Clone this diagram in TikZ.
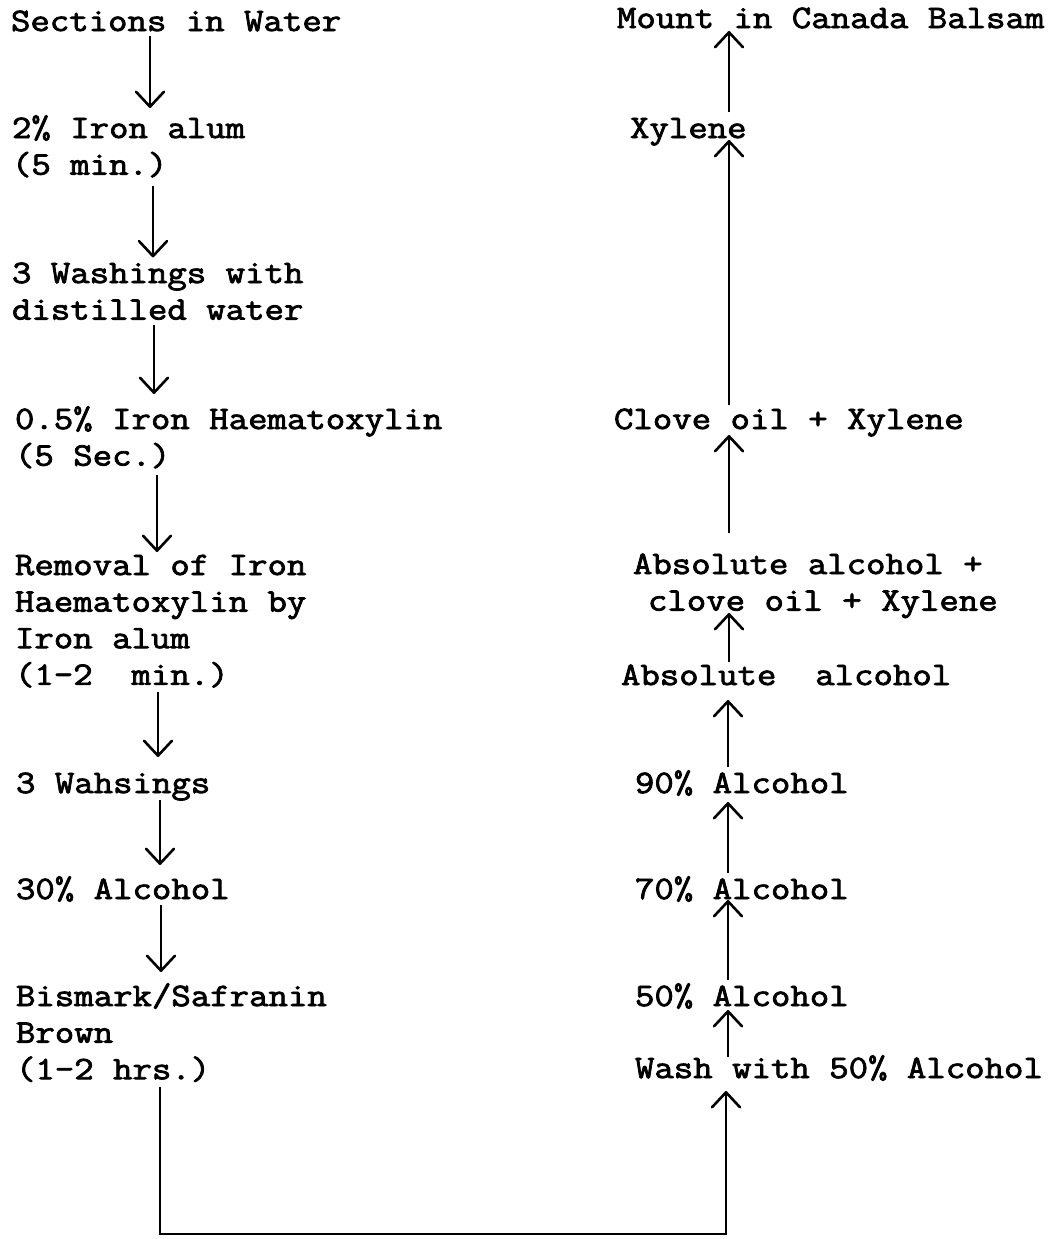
\documentclass[tikz,border=0pt]{standalone}
\usepackage{fontspec}
\newfontfamily\courfont{Latin Modern Mono}[FakeStretch=1.15,FakeBold=2.4]
\usetikzlibrary{arrows.meta}
\begin{document}
\begin{tikzpicture}[x=1pt,y=-1pt,
  lbl/.style={anchor=north west,inner sep=0pt,outer sep=0pt,align=left,
    font=\courfont\fontsize{32.8}{36.6}\selectfont},
  arr/.style={line width=2.9pt,
    -{Straight Barb[length=15pt,width=28pt,line width=2.6pt,round]}}]
\fill[white] (0,0) rectangle (1064,1239);
\useasboundingbox (0,0) rectangle (1064,1239);
% left column
\node[lbl] (sec)   at (11,5.4)    {\strut Sections in Water};
\node[lbl] (iron2) at (12,112.4)  {\strut 2\% Iron alum\\\strut (5 min.)};
\node[lbl] (wash3) at (12,257.4)  {\strut 3 Washings with\\\strut distilled water};
\node[lbl] (haem)  at (15,403.4)  {\strut 0.5\% Iron Haematoxylin\\\strut (5 Sec.)};
\node[lbl] (remov) at (15,549.4)  {\strut Removal of Iron\\\strut Haematoxylin by\\\strut Iron alum\\\strut (1-2~ min.)};
\node[lbl] (wah)   at (16,767.4)  {\strut 3 Wahsings};
\node[lbl] (alc30) at (16,873.4)  {\strut 30\% Alcohol};
\node[lbl] (bis)   at (16,980.4)  {\strut Bismark/Safranin\\\strut Brown\\\strut (1-2 hrs.)};
% right column
\node[lbl] (mount) at (617,2.4)   {\strut Mount in Canada Balsam};
\node[lbl] (xyl)   at (630,112.4) {\strut Xylene};
\node[lbl] (clove) at (614,403.4) {\strut Clove oil + Xylene};
\node[lbl] (absclove) at (633,548.4) {\strut Absolute alcohol +\\\hspace*{15pt}\strut clove oil + Xylene};
\node[lbl] (absalc) at (621,659.4) {\strut Absolute~ alcohol};
\node[lbl] (a90)   at (635,767.4) {\strut 90\% Alcohol};
\node[lbl] (a70)   at (635,873.4) {\strut 70\% Alcohol};
\node[lbl] (a50)   at (635,980.4) {\strut 50\% Alcohol};
\node[lbl] (washw) at (635,1052.4) {\strut Wash with 50\% Alcohol};
% column guides
\coordinate (c1) at (150,0);
\coordinate (c2) at (153,0);
\coordinate (c3) at (154,0);
\coordinate (c4) at (157,0);
\coordinate (c5) at (158,0);
\coordinate (c6) at (160,0);
\coordinate (c7) at (161,0);
\coordinate (cR) at (729,0);
\coordinate (cRl) at (728,0);
\coordinate (cornerL) at (160,1234);
\coordinate (cornerR) at (726,1234);
% left arrows
\draw[arr,shorten <=-6pt,shorten >=4.4pt] (sec.south -| c1) -- (iron2.north -| c1);
\draw[arr] (iron2.south -| c2) -- (wash3.north -| c2);
\draw[arr,shorten <=-5.6pt,shorten >=9.4pt] (wash3.south -| c3) -- (haem.north -| c3);
\draw[arr,shorten <=-1.6pt,shorten >=-2.6pt] (haem.south -| c4) -- (remov.north -| c4);
\draw[arr,shorten <=-4pt,shorten >=10.4pt] (remov.south -| c5) -- (wah.north -| c5);
\draw[arr,shorten <=-4pt,shorten >=8.4pt] (wah.south -| c6) -- (alc30.north -| c6);
\draw[arr,shorten <=-5pt,shorten >=8.4pt] (alc30.south -| c7) -- (bis.north -| c7);
% bottom connector
\draw[arr,shorten <=-3pt,shorten >=2pt] (bis.south -| cornerL) -- (cornerL) -- (cornerR) -- (washw.south -| cornerR);
% right arrows
\draw[arr,shorten <=-4.6pt,shorten >=-7pt] (washw.north -| cRl) -- (a50.south -| cRl);
\draw[arr,shorten >=-10pt] (a50.north -| cRl) -- (a70.south -| cRl);
\draw[arr,shorten >=-2pt] (a70.north -| cRl) -- (a90.south -| cRl);
\draw[arr,shorten >=4pt] (a90.north -| cRl) -- (absalc.south -| cRl);
\draw[arr,shorten <=-2.6pt,shorten >=-8.6pt] (absalc.north -| cR) -- (absclove.south -| cR);
\draw[arr,shorten <=15.4pt,shorten >=-5pt] (absclove.north -| cR) -- (clove.south -| cR);
\draw[arr,shorten <=-1.6pt,shorten >=-9pt] (clove.north -| cR) -- (xyl.south -| cR);
\draw[arr,shorten >=-8pt] (xyl.north -| cR) -- (mount.south -| cR);
\end{tikzpicture}
\end{document}
